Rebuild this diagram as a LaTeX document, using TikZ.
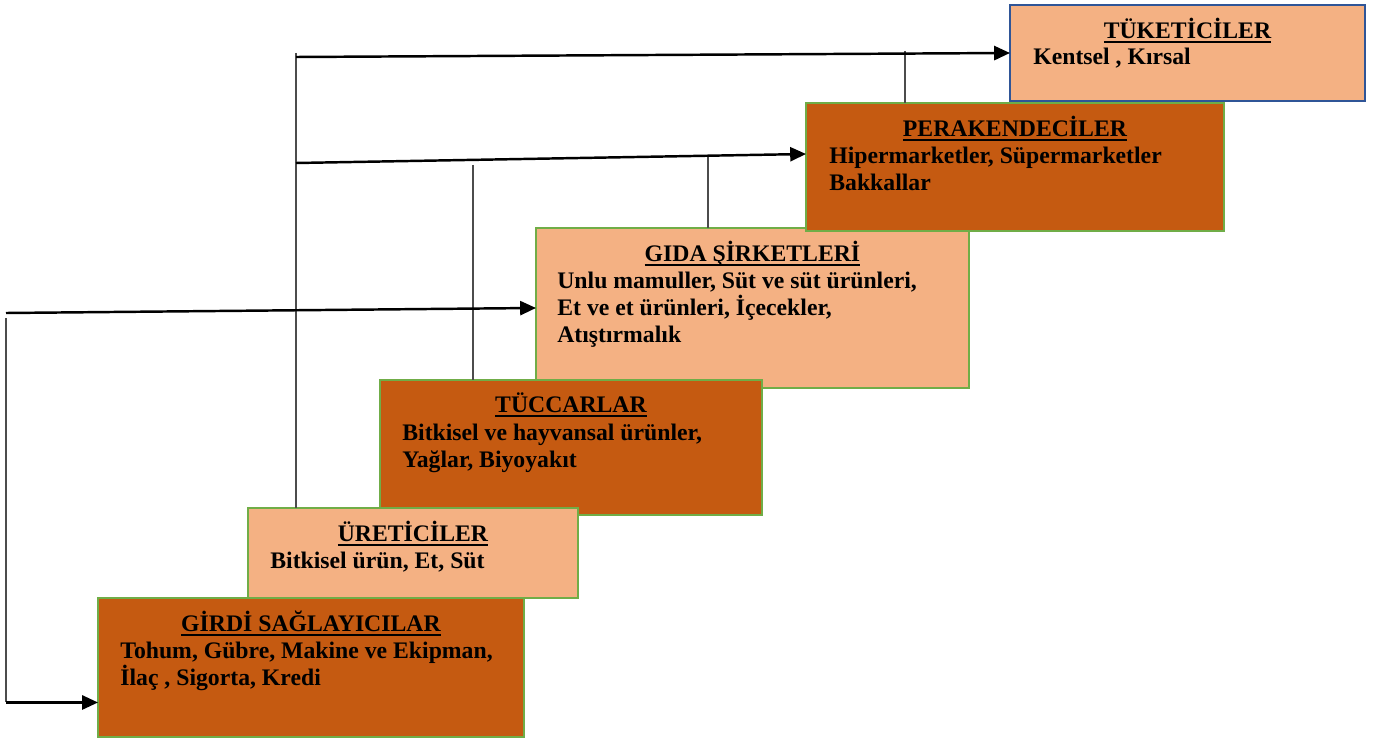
\documentclass[tikz,border=0pt]{standalone}
\usepackage{fontspec}
\setmainfont{Liberation Serif}
\usetikzlibrary{arrows.meta}
\definecolor{rust}{HTML}{C55A11}
\definecolor{peach}{HTML}{F4B183}
\definecolor{leaf}{HTML}{70AD47}
\definecolor{navy}{HTML}{2F5597}
% heading with a heavier underline than \underline gives
\newcommand{\tierhead}[1]{\setbox0=\hbox{#1}\rlap{\rule[-2.2pt]{\wd0}{1.2pt}}\box0}

\begin{document}
\begin{tikzpicture}[x=0.02cm,y=-0.02cm,
    font=\bfseries\fontsize{13.5}{15.4}\selectfont,
    tier/.style={draw=leaf,line width=1.2pt,anchor=north west,inner sep=0pt,outer sep=0pt},
    tierdark/.style={tier,fill=rust},
    tierlight/.style={tier,fill=peach},
    head/.style={anchor=base,inner sep=0pt},
    % base of a multi-line node is its last line
    body/.style={anchor=base west,align=left,inner sep=0pt},
    flow/.style={line width=1.4pt,-{Triangle[length=9pt,width=8pt]}},
    tie/.style={line width=1pt,draw=black!70}]
  \useasboundingbox (0,0) rectangle (1373,740);

  % upper tiers first, the lower ones overlap them
  \node[tierlight,minimum width=8.66cm,minimum height=3.2cm] (gida) at (536,228) {};
  \node[head] (gidahead) at ([yshift=-0.68cm]gida.north) {\tierhead{GIDA ŞİRKETLERİ}};
  \node[body] (gidabody) at ([shift={(0.42cm,-2.3cm)}]gida.north west)
    {Unlu mamuller, Süt ve süt ürünleri,\\Et ve et ürünleri, İçecekler,\\Atıştırmalık};

  \node[tierdark,minimum width=8.36cm,minimum height=2.56cm] (perakende) at (806,103) {};
  \node[head] (perakendehead) at ([yshift=-0.68cm]perakende.north) {\tierhead{PERAKENDECİLER}};
  \node[body] (perakendebody) at ([shift={(0.46cm,-1.75cm)}]perakende.north west)
    {Hipermarketler, Süpermarketler\\Bakkallar};

  \node[tierlight,draw=navy,minimum width=7.1cm,minimum height=1.92cm] (tuketici) at (1010,5) {};
  \node[head] (tuketicihead) at ([yshift=-0.68cm]tuketici.north) {\tierhead{TÜKETİCİLER}};
  \node[body] (tuketicibody) at ([shift={(0.46cm,-1.19cm)}]tuketici.north west)
    {Kentsel , Kırsal};

  \node[tierdark,minimum width=7.64cm,minimum height=2.7cm] (tuccar) at (380,380) {};
  \node[head] (tuccarhead) at ([yshift=-0.66cm]tuccar.north) {\tierhead{TÜCCARLAR}};
  \node[body] (tuccarbody) at ([shift={(0.44cm,-1.75cm)}]tuccar.north west)
    {Bitkisel ve hayvansal ürünler,\\Yağlar, Biyoyakıt};

  \node[tierlight,minimum width=6.6cm,minimum height=1.8cm] (uretici) at (248,508) {};
  \node[head] (ureticihead) at ([yshift=-0.68cm]uretici.north) {\tierhead{ÜRETİCİLER}};
  \node[body] (ureticibody) at ([shift={(0.44cm,-1.21cm)}]uretici.north west)
    {Bitkisel ürün, Et, Süt};

  \node[tierdark,minimum width=8.52cm,minimum height=2.78cm] (girdi) at (98,598) {};
  \node[head] (girdihead) at ([yshift=-0.68cm]girdi.north) {\tierhead{GİRDİ SAĞLAYICILAR}};
  \node[body] (girdibody) at ([shift={(0.44cm,-1.75cm)}]girdi.north west)
    {Tohum, Gübre, Makine ve Ekipman,\\İlaç , Sigorta, Kredi};

  % feed lines
  \coordinate (spine) at (296,53);
  \coordinate (feedtop) at (296,57);
  \coordinate (feedmid) at (296,163);
  \coordinate (feedlow) at (6,313);
  \coordinate (loopstart) at (6,318);
  \coordinate (drop1) at (905,51);
  \coordinate (drop2) at (708,156);
  \coordinate (drop3) at (473,165);
  \coordinate (girdiin) at ([yshift=-0.7cm]girdi.west);

  \draw[tie] (spine) -- (spine |- uretici.north);
  \draw[tie] (drop1) -- (drop1 |- perakende.north);
  \draw[tie] (drop2) -- (drop2 |- gida.north);
  \draw[tie] (drop3) -- (drop3 |- tuccar.north);
  \draw[tie] (loopstart) -- (loopstart |- girdiin);

  \draw[flow] (feedtop) -- (tuketici.west);
  \draw[flow] (feedmid) -- ([yshift=0.26cm]perakende.west);
  \draw[flow] (feedlow) -- (gida.west);
  \draw[flow] (loopstart |- girdiin) -- (girdiin);
\end{tikzpicture}
\end{document}
